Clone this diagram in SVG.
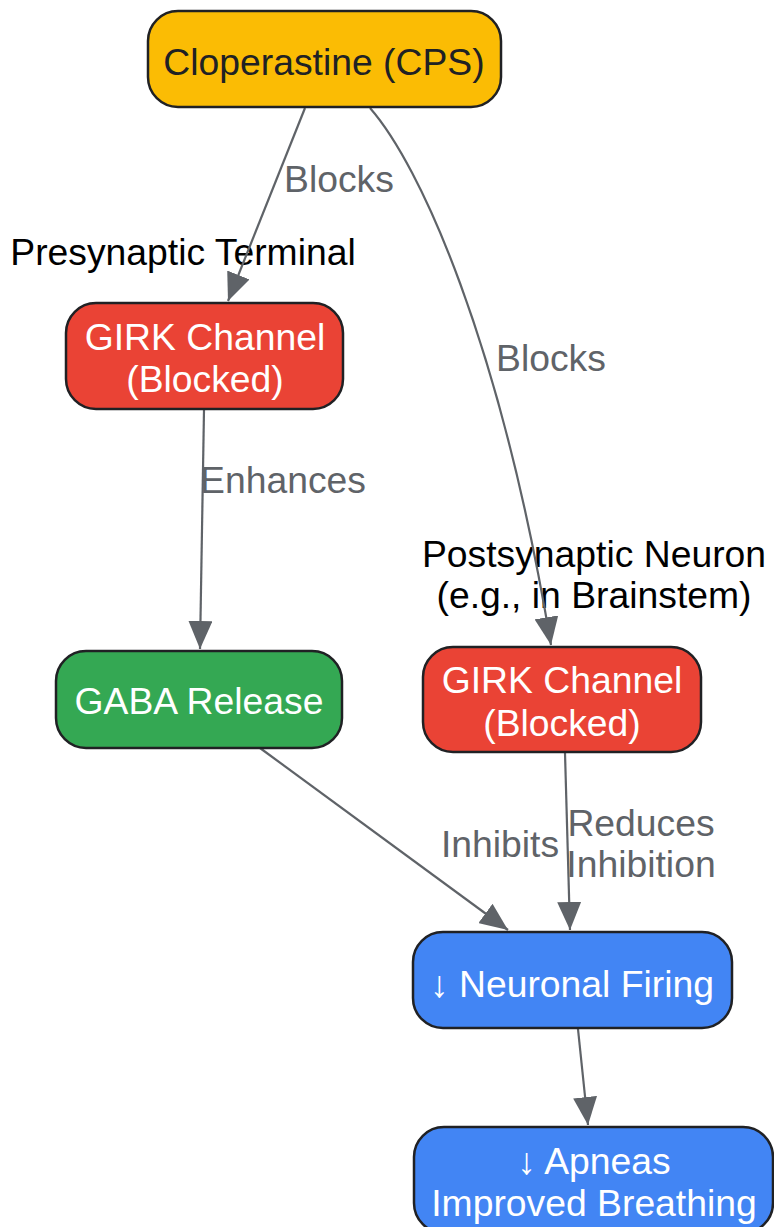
<svg xmlns="http://www.w3.org/2000/svg" width="774" height="1227" viewBox="0 0 774 1227">
<defs>
<marker id="arr" viewBox="0 0 28 24" refX="28" refY="12" markerWidth="28" markerHeight="24" markerUnits="userSpaceOnUse" orient="auto">
<path d="M0,0 L28,12 L0,24 z" fill="#5f6368"/>
</marker>
<style>
text{font-family:"Liberation Sans",Arial,"DejaVu Sans",sans-serif;font-size:37.3px;text-anchor:middle}
.node rect{stroke:#202124;stroke-width:2.5}
.w{fill:#ffffff}
.lbl{fill:#5f6368}
.grp{fill:#000000}
.edge{fill:none;stroke:#5f6368;stroke-width:2.2;marker-end:url(#arr)}
</style>
</defs>
<rect width="774" height="1227" fill="#ffffff"/>
<g id="groups">
<text class="grp" x="183" y="265">Presynaptic Terminal</text>
<text class="grp" x="594" y="567">Postsynaptic Neuron</text>
<text class="grp" x="594" y="608">(e.g., in Brainstem)</text>
</g>
<g id="connectors">
<path class="edge" d="M305,108 L228,301"/>
<path class="edge" d="M370,108 C420,165 500,340 551,645"/>
<path class="edge" d="M204,410 L200,649"/>
<path class="edge" d="M260,748 L508,930"/>
<path class="edge" d="M565,753 L570,930"/>
<path class="edge" d="M578,1029 L588,1125"/>
<text class="lbl" x="339" y="192">Blocks</text>
<text class="lbl" x="551" y="371">Blocks</text>
<text class="lbl" x="283" y="493">Enhances</text>
<text class="lbl" x="500" y="857">Inhibits</text>
<text class="lbl" x="641" y="836">Reduces</text>
<text class="lbl" x="641" y="877">Inhibition</text>
</g>
<g id="cps" class="node">
<rect x="148" y="11" width="353" height="96" rx="30" fill="#FBBC04"/>
<text x="324" y="75" fill="#202124">Cloperastine (CPS)</text>
</g>
<g id="girk_pre" class="node">
<rect x="66" y="303" width="277" height="106" rx="30" fill="#EA4335"/>
<text class="w" x="205" y="350">GIRK Channel</text>
<text class="w" x="205" y="392">(Blocked)</text>
</g>
<g id="gaba" class="node">
<rect x="56" y="651" width="286" height="97" rx="30" fill="#34A853"/>
<text class="w" x="199" y="714">GABA Release</text>
</g>
<g id="girk_post" class="node">
<rect x="423" y="647" width="278" height="105" rx="30" fill="#EA4335"/>
<text class="w" x="562" y="693">GIRK Channel</text>
<text class="w" x="562" y="736">(Blocked)</text>
</g>
<g id="firing" class="node">
<rect x="413" y="932" width="319" height="96" rx="30" fill="#4285F4"/>
<text class="w" x="572" y="997">↓ Neuronal Firing</text>
</g>
<g id="apneas" class="node">
<rect x="414" y="1127" width="359" height="106" rx="30" fill="#4285F4"/>
<text class="w" x="594" y="1174">↓ Apneas</text>
<text class="w" x="594" y="1216">Improved Breathing</text>
</g>
</svg>
